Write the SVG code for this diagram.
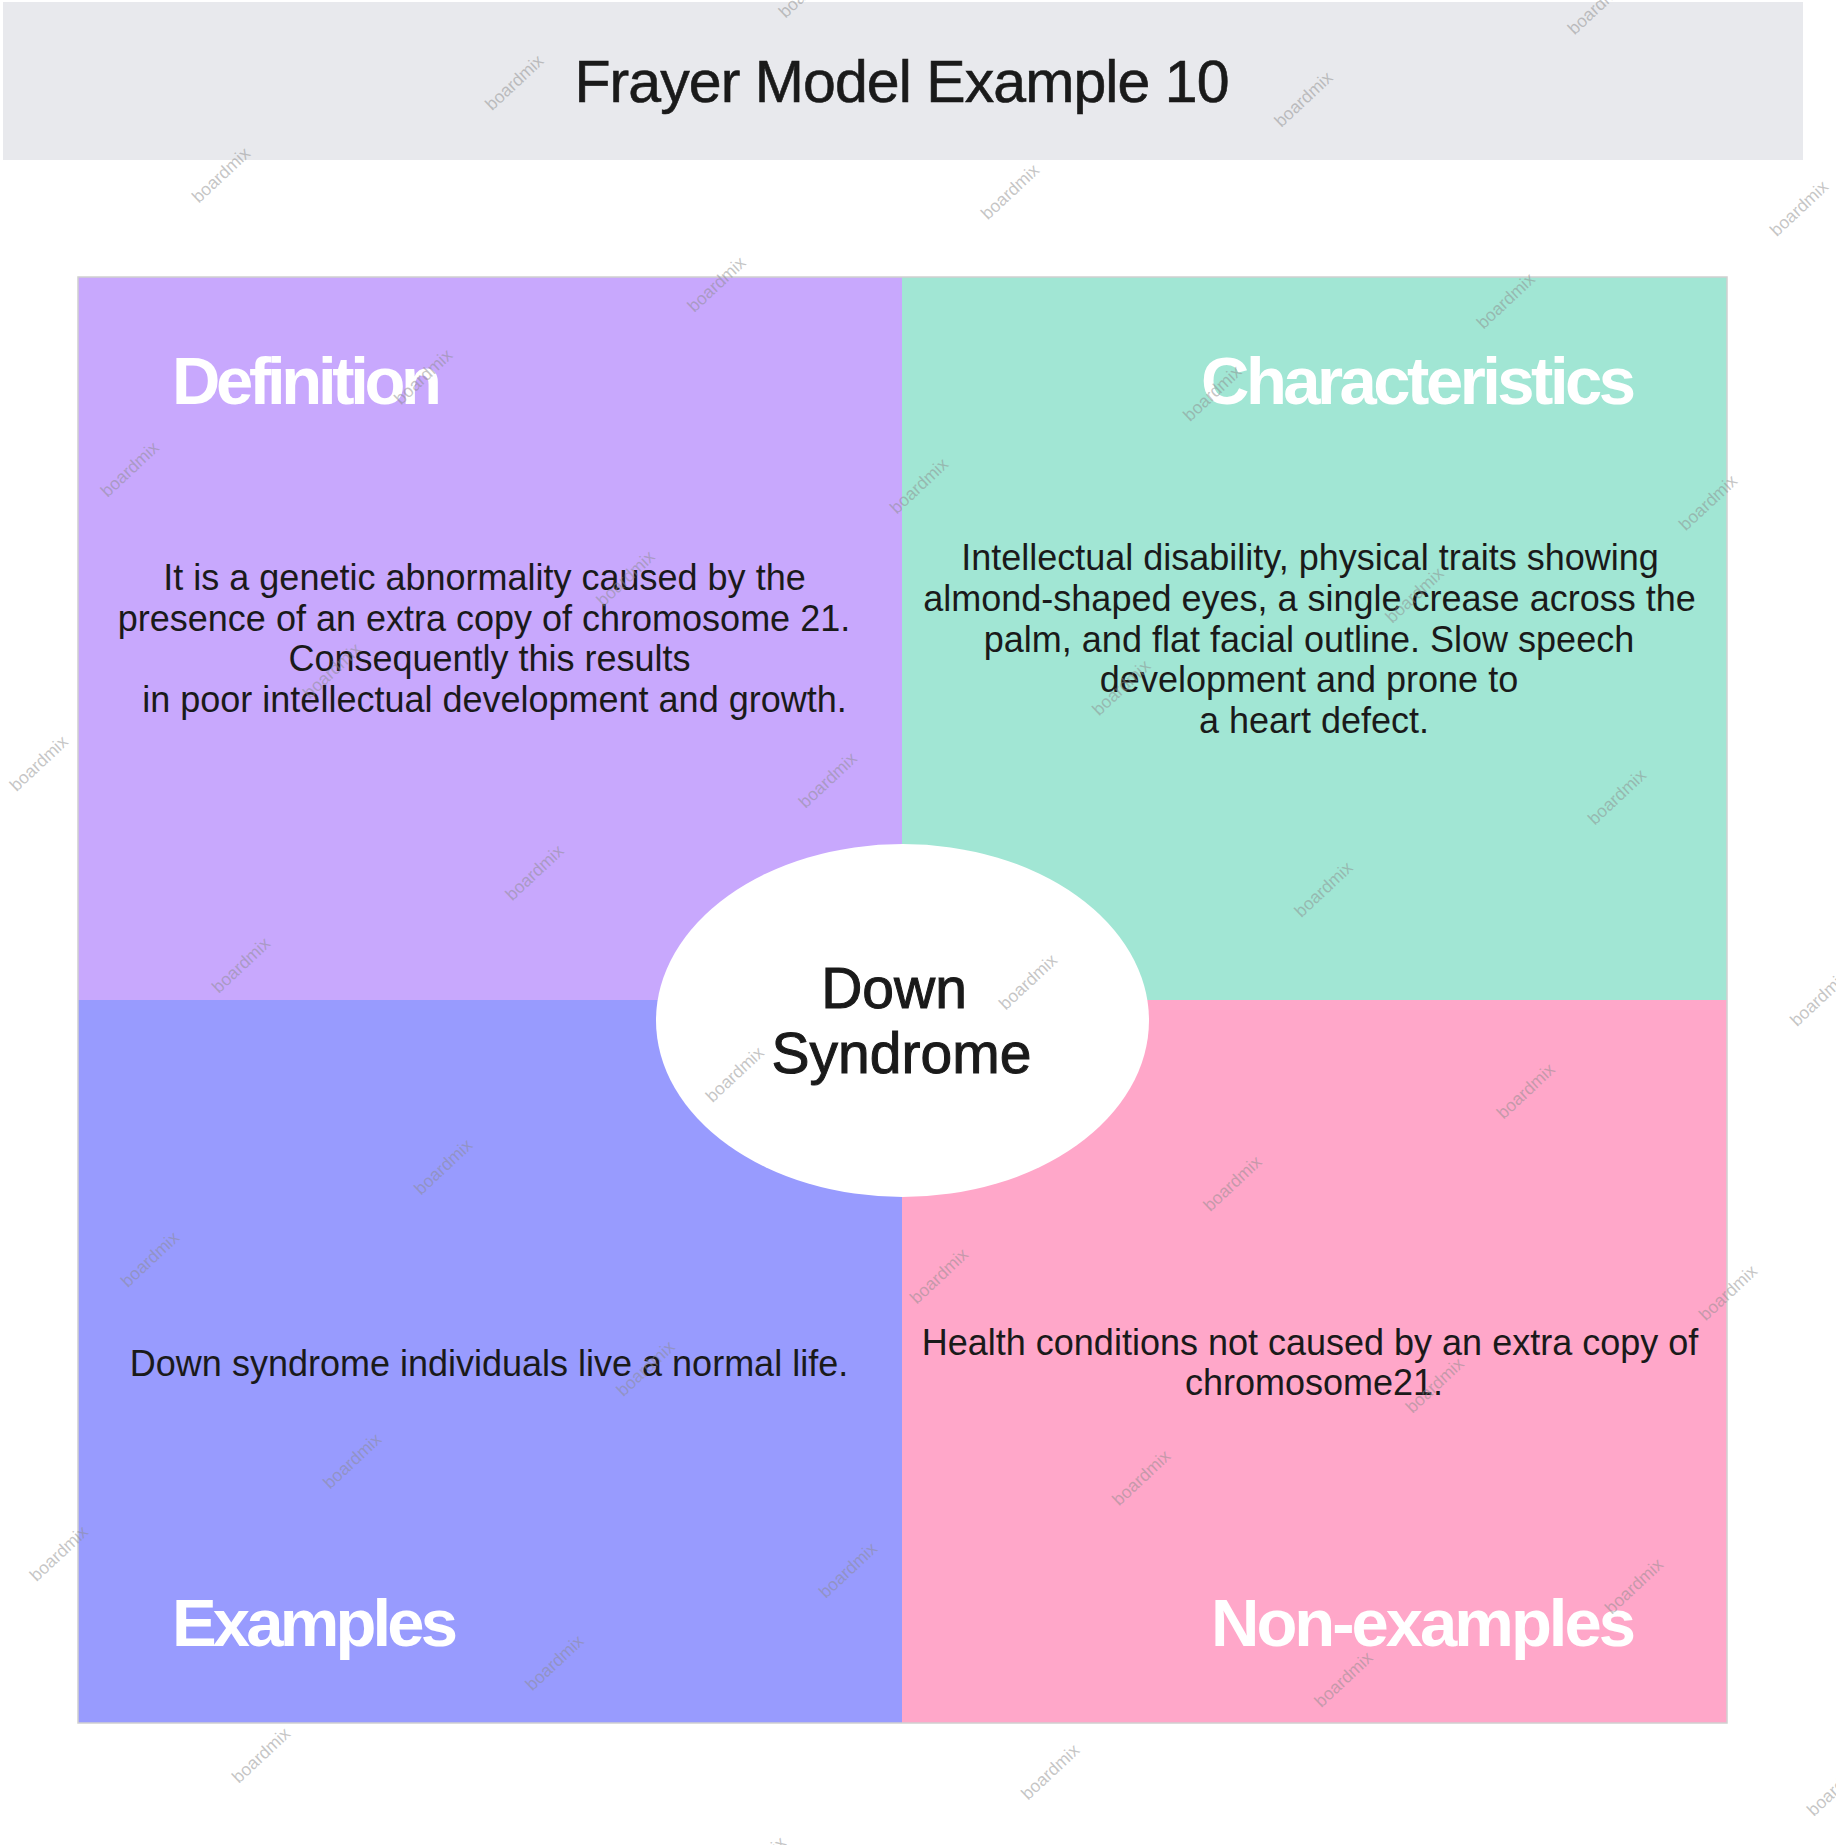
<svg xmlns="http://www.w3.org/2000/svg" width="1836" height="1845" viewBox="0 0 1836 1845">
<style>
.hdr{font-family:"Liberation Sans",Arial,sans-serif;font-weight:bold;font-size:67px;fill:#ffffff}
.body{font-family:"Liberation Sans",Arial,sans-serif;font-size:36px;fill:#1a1a1a;text-anchor:middle}
.title{font-family:"Liberation Sans",Arial,sans-serif;font-size:59px;fill:#1a1a1a;stroke:#1a1a1a;stroke-width:0.6;text-anchor:middle}
.center{font-family:"Liberation Sans",Arial,sans-serif;font-size:57px;fill:#1a1a1a;stroke:#1a1a1a;stroke-width:1;text-anchor:middle}
.wm{font-family:"Liberation Sans",Arial,sans-serif;font-size:17.5px;fill:#8c8c8c;fill-opacity:0.5;text-anchor:middle}
</style>
<rect x="0" y="0" width="1836" height="1845" fill="#ffffff"/>
<g id="title">
<rect x="3" y="2" width="1800" height="158" fill="#e8e9ed"/>
<text class="title" x="902" y="102" textLength="655" lengthAdjust="spacing">Frayer Model Example 10</text>
</g>
<g id="connectors"></g>
<g id="definition">
<rect x="78" y="277" width="824" height="723" fill="#c8a8fd"/>
<text class="hdr" x="172" y="404" textLength="270" lengthAdjust="spacing">Definition</text>
<text class="body" x="484.5" y="590">It is a genetic abnormality caused by the</text>
<text class="body" x="484" y="630.5">presence of an extra copy of chromosome 21.</text>
<text class="body" x="489.5" y="671">Consequently this results</text>
<text class="body" x="494.5" y="711.5">in poor intellectual development and growth.</text>
</g>
<g id="characteristics">
<rect x="902" y="277" width="825" height="723" fill="#a1e6d4"/>
<text class="hdr" x="1201" y="404" textLength="435" lengthAdjust="spacing">Characteristics</text>
<text class="body" x="1310" y="570">Intellectual disability, physical traits showing</text>
<text class="body" x="1309.5" y="611">almond-shaped eyes, a single crease across the</text>
<text class="body" x="1309" y="651.5">palm, and flat facial outline. Slow speech</text>
<text class="body" x="1309" y="692">development and prone to</text>
<text class="body" x="1314" y="732.5">a heart defect.</text>
</g>
<g id="examples">
<rect x="78" y="1000" width="824" height="723" fill="#989bfe"/>
<text class="hdr" x="172" y="1646" textLength="286" lengthAdjust="spacing">Examples</text>
<text class="body" x="489" y="1376">Down syndrome individuals live a normal life.</text>
</g>
<g id="non-examples">
<rect x="902" y="1000" width="825" height="723" fill="#ffa7c9"/>
<text class="hdr" x="1211" y="1646" textLength="425" lengthAdjust="spacing">Non-examples</text>
<text class="body" x="1310" y="1355">Health conditions not caused by an extra copy of</text>
<text class="body" x="1314" y="1395">chromosome21.</text>
</g>
<rect x="78" y="277" width="1649" height="1446" fill="none" stroke="#d0d0d0" stroke-width="1.5"/>
<g id="center-topic">
<ellipse cx="902.5" cy="1020.5" rx="246.5" ry="176.5" fill="#ffffff"/>
<text class="center" x="894" y="1008">Down</text>
<text class="center" x="901.5" y="1073">Syndrome</text>
</g>
<g id="watermark">
<text class="wm" transform="translate(807.7,-10.1) rotate(-43)" y="6">boardmix</text>
<text class="wm" transform="translate(1596.8,6.6) rotate(-43)" y="6">boardmix</text>
<text class="wm" transform="translate(514.3,82.4) rotate(-43)" y="6">boardmix</text>
<text class="wm" transform="translate(1303.4,99.1) rotate(-43)" y="6">boardmix</text>
<text class="wm" transform="translate(220.9,174.9) rotate(-43)" y="6">boardmix</text>
<text class="wm" transform="translate(1010,191.6) rotate(-43)" y="6">boardmix</text>
<text class="wm" transform="translate(1799.1,208.3) rotate(-43)" y="6">boardmix</text>
<text class="wm" transform="translate(716.6,284.1) rotate(-43)" y="6">boardmix</text>
<text class="wm" transform="translate(1505.7,300.8) rotate(-43)" y="6">boardmix</text>
<text class="wm" transform="translate(423.2,376.6) rotate(-43)" y="6">boardmix</text>
<text class="wm" transform="translate(1212.3,393.3) rotate(-43)" y="6">boardmix</text>
<text class="wm" transform="translate(129.8,469.1) rotate(-43)" y="6">boardmix</text>
<text class="wm" transform="translate(918.9,485.8) rotate(-43)" y="6">boardmix</text>
<text class="wm" transform="translate(1708,502.5) rotate(-43)" y="6">boardmix</text>
<text class="wm" transform="translate(625.5,578.3) rotate(-43)" y="6">boardmix</text>
<text class="wm" transform="translate(1414.6,595) rotate(-43)" y="6">boardmix</text>
<text class="wm" transform="translate(332.1,670.8) rotate(-43)" y="6">boardmix</text>
<text class="wm" transform="translate(1121.2,687.5) rotate(-43)" y="6">boardmix</text>
<text class="wm" transform="translate(38.7,763.3) rotate(-43)" y="6">boardmix</text>
<text class="wm" transform="translate(827.8,780) rotate(-43)" y="6">boardmix</text>
<text class="wm" transform="translate(1616.9,796.7) rotate(-43)" y="6">boardmix</text>
<text class="wm" transform="translate(534.4,872.5) rotate(-43)" y="6">boardmix</text>
<text class="wm" transform="translate(1323.5,889.2) rotate(-43)" y="6">boardmix</text>
<text class="wm" transform="translate(241,965) rotate(-43)" y="6">boardmix</text>
<text class="wm" transform="translate(1028,981.7) rotate(-43)" y="6">boardmix</text>
<text class="wm" transform="translate(1819.2,998.4) rotate(-43)" y="6">boardmix</text>
<text class="wm" transform="translate(734.7,1074.2) rotate(-43)" y="6">boardmix</text>
<text class="wm" transform="translate(1525.8,1090.9) rotate(-43)" y="6">boardmix</text>
<text class="wm" transform="translate(443.3,1166.7) rotate(-43)" y="6">boardmix</text>
<text class="wm" transform="translate(1232.4,1183.4) rotate(-43)" y="6">boardmix</text>
<text class="wm" transform="translate(149.9,1259.2) rotate(-43)" y="6">boardmix</text>
<text class="wm" transform="translate(939,1275.9) rotate(-43)" y="6">boardmix</text>
<text class="wm" transform="translate(1728.1,1292.6) rotate(-43)" y="6">boardmix</text>
<text class="wm" transform="translate(645.6,1368.4) rotate(-43)" y="6">boardmix</text>
<text class="wm" transform="translate(1434.7,1385.1) rotate(-43)" y="6">boardmix</text>
<text class="wm" transform="translate(352.2,1460.9) rotate(-43)" y="6">boardmix</text>
<text class="wm" transform="translate(1141.3,1477.6) rotate(-43)" y="6">boardmix</text>
<text class="wm" transform="translate(58.8,1553.4) rotate(-43)" y="6">boardmix</text>
<text class="wm" transform="translate(847.9,1570.1) rotate(-43)" y="6">boardmix</text>
<text class="wm" transform="translate(1634,1586) rotate(-43)" y="6">boardmix</text>
<text class="wm" transform="translate(554.5,1662.6) rotate(-43)" y="6">boardmix</text>
<text class="wm" transform="translate(1343.6,1679.3) rotate(-43)" y="6">boardmix</text>
<text class="wm" transform="translate(261.1,1755.1) rotate(-43)" y="6">boardmix</text>
<text class="wm" transform="translate(1050.2,1771.8) rotate(-43)" y="6">boardmix</text>
<text class="wm" transform="translate(1836,1788) rotate(-43)" y="6">boardmix</text>
<text class="wm" transform="translate(756.8,1864.3) rotate(-43)" y="6">boardmix</text>
</g>
</svg>
